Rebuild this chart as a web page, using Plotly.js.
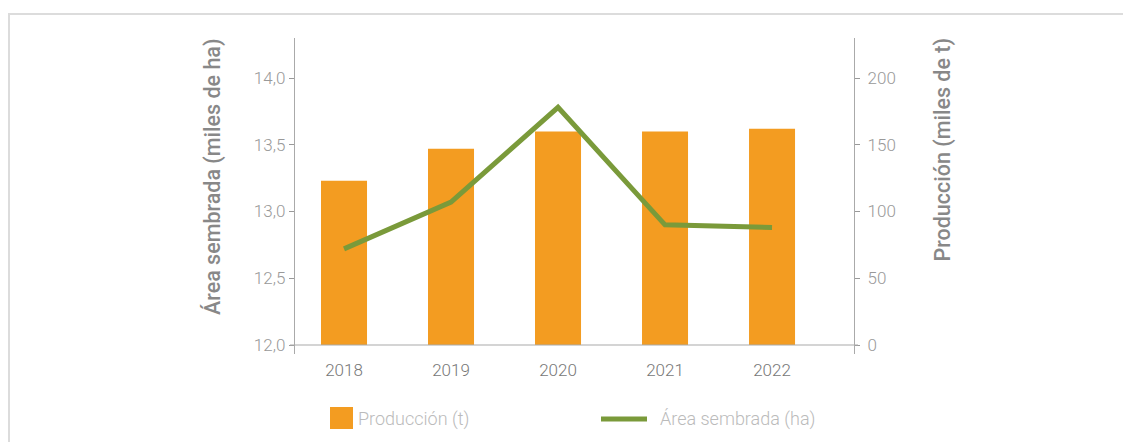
<!DOCTYPE html>
<html>
<head>
<meta charset="utf-8">
<script src="https://cdn.plot.ly/plotly-3.0.1.min.js"></script>
<style>
html,body{margin:0;padding:0;background:#fff;}
#frame{position:absolute;left:8px;top:13px;right:0;bottom:0;border-top:2px solid #dcdcdc;border-left:2px solid #dcdcdc;}
#chart{position:absolute;left:0;top:0;width:1123px;height:442px;}
</style>
</head>
<body>
<div id="frame"></div>
<div id="chart"></div>
<script>
const years = ['2018','2019','2020','2021','2022'];
const produccion = [123, 147, 160, 160, 162];           // miles de t
const areaSembrada = [12.72, 13.07, 13.78, 12.90, 12.88]; // miles de ha
const leftTicks = [12, 12.5, 13, 13.5, 14];
const rightTicks = [0, 50, 100, 150, 200];

const orange = '#F39C21';
const green = '#7A9A3A';
const fontFam = 'Roboto, "Open Sans", sans-serif';

const traces = [
  {type:'bar', x:years, y:produccion, yaxis:'y', marker:{color:orange}, width:0.43,
   name:'Producción (t)', showlegend:false, hoverinfo:'skip'},
  {type:'scatter', mode:'lines', x:years, y:areaSembrada, yaxis:'y2',
   line:{color:green, width:5}, name:'Área sembrada (ha)', showlegend:false, hoverinfo:'skip'}
];

const L=295, R=854, T=38, B=354, W=1123, H=442;
const px = v => (v-L)/(R-L);
const py = v => (B-v)/(B-T);

const areaRange = [12 - 9/133.5, 12 + 307/133.5];
const prodRange = [-9/1.335, 307/1.335];

const tickFont = {size:17, color:'#999', weight:300};
const titleFont = {family:fontFam, size:21.5, color:'#888', weight:500};

const layout = {
  width:W, height:H,
  margin:{l:L, r:W-R, t:T, b:H-B, pad:0},
  paper_bgcolor:'rgba(0,0,0,0)', plot_bgcolor:'rgba(0,0,0,0)',
  separators:',.',
  font:{family:fontFam, color:'#888'},
  xaxis:{type:'category', range:[-0.458, 4.766], showline:false, showgrid:false, zeroline:false,
         ticks:'', tickfont:{size:17, color:'#777', weight:300}, ticklabelstandoff:4},
  yaxis:{range:prodRange, tickvals:rightTicks, side:'right', showgrid:false, zeroline:false,
         showline:true, linecolor:'#aaa', linewidth:1.2, ticks:'outside', ticklen:5, tickcolor:'#999',
         tickfont:tickFont, ticklabelstandoff:4},
  yaxis2:{range:areaRange, tickvals:leftTicks, tickformat:'.1f', overlaying:'y', side:'left',
         showgrid:false, zeroline:false,
         showline:true, linecolor:'#aaa', linewidth:1.2, ticks:'outside', ticklen:5, tickcolor:'#999',
         tickfont:tickFont},
  yaxis3:{range:areaRange, tickvals:leftTicks, overlaying:'y', side:'left', showgrid:false, zeroline:false,
         showline:false, ticks:'inside', ticklen:5, tickcolor:'#999', showticklabels:false},
  yaxis4:{range:prodRange, tickvals:rightTicks, overlaying:'y', side:'right', showgrid:false, zeroline:false,
         showline:false, ticks:'inside', ticklen:5, tickcolor:'#999', showticklabels:false},
  shapes:[
    {type:'line', xref:'paper', yref:'y', x0:px(290), x1:px(858), y0:0, y1:0, line:{color:'#aaa', width:1.2}},
    {type:'rect', xref:'paper', yref:'paper', x0:px(330), x1:px(353), y0:py(429), y1:py(407),
     fillcolor:orange, line:{width:0}},
    {type:'line', xref:'paper', yref:'paper', x0:px(601), x1:px(647), y0:py(419), y1:py(419),
     line:{color:green, width:5}}
  ],
  annotations:[
    {text:'Área sembrada (miles de ha)', xref:'paper', yref:'paper', x:px(213), y:py(37),
     xanchor:'center', yanchor:'top', textangle:-90, showarrow:false, font:titleFont},
    {text:'Producción (miles de t)', xref:'paper', yref:'paper', x:px(942), y:py(37),
     xanchor:'center', yanchor:'top', textangle:-90, showarrow:false, font:titleFont},
    {text:'Producción (t)', xref:'paper', yref:'paper', x:px(356), y:py(419),
     xanchor:'left', yanchor:'middle', showarrow:false, font:{size:18, color:'#bbb', weight:300}},
    {text:'Área sembrada (ha)', xref:'paper', yref:'paper', x:px(658), y:py(419),
     xanchor:'left', yanchor:'middle', showarrow:false, font:{size:18, color:'#bbb', weight:300}}
  ]
};

Plotly.newPlot('chart', traces, layout, {staticPlot:true, displayModeBar:false});
</script>
</body>
</html>
